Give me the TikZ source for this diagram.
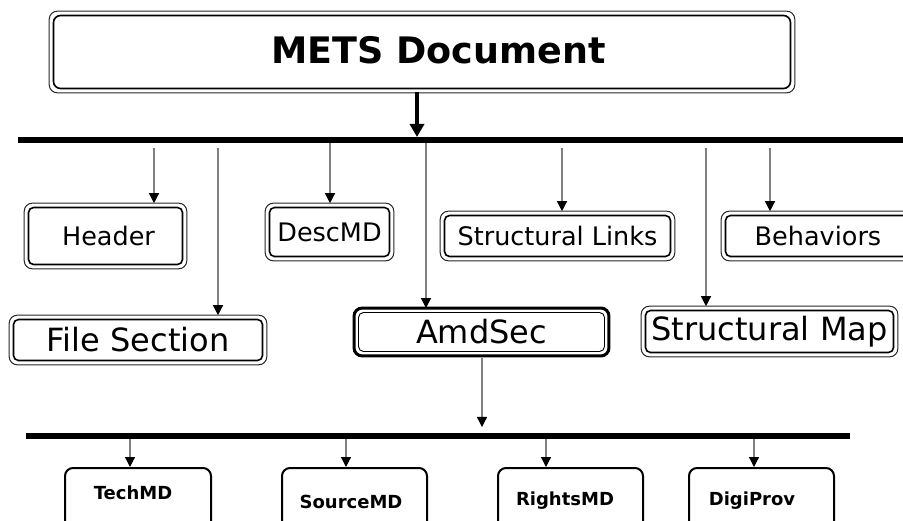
\documentclass[tikz,border=0pt]{standalone}
\usepackage{fontspec}
\setmainfont{DejaVu Sans}
\usetikzlibrary{arrows.meta}
\begin{document}
\begin{tikzpicture}[x=1pt,y=-1pt,
  box/.style={draw=black, line width=1.6pt, rounded corners=5pt, fill=white,
    inner sep=0pt, font=\fontsize{25.5}{28}\selectfont},
  bigtext/.style={font=\fontsize{32}{34}\selectfont},
  ring/.style={draw=black!85, line width=1pt, rounded corners=8pt},
  amdbox/.style={draw=black, line width=0.9pt, rounded corners=5pt, fill=white,
    inner sep=0pt, font=\fontsize{32}{34}\selectfont},
  amdring/.style={draw=black, line width=3pt, rounded corners=8pt},
  bus/.style={draw=black, line width=6pt},
  arr/.style={draw=black!50, line width=1.3pt,
    -{Triangle[color=black, length=10pt, width=10pt]}},
  bigarr/.style={draw=black, line width=4pt,
    -{Triangle[length=13pt, width=14pt]}},
  subbox/.style={draw=black, line width=2pt, rounded corners=8pt,
    minimum height=90pt, anchor=north, inner sep=0pt},
  subtext/.style={font=\bfseries\fontsize{18}{20}\selectfont}
]
\useasboundingbox (0,0) rectangle (903,521);
\clip (0,0) rectangle (903,521);

% top document box
\node[box, rounded corners=7pt, minimum width=737pt, minimum height=73pt] (mets) at (422,52) {};
\node[font=\bfseries\fontsize{36.5}{38}\selectfont] (metstext) at (438.5,50) {METS Document};

% first row of sections
\node[box, minimum width=154pt, minimum height=57pt] (head) at (105.5,236) {\hspace{6pt}Header};
\node[box, minimum width=120pt, minimum height=49pt] (desc) at (329.5,232) {DescMD};
\node[box, minimum width=226pt, minimum height=41pt] (links) at (557.5,236) {Structural Links};
\node[box, minimum width=185pt, minimum height=41pt] (behav) at (818,236) {Behaviors};

% second row of sections
\node[box, bigtext, minimum width=249pt, minimum height=41pt] (files) at (138,340) {File Section};
\node[amdbox, minimum width=246pt, minimum height=39pt] (amd) at (481.5,332) {AmdSec};
\node[box, bigtext, minimum width=248pt, minimum height=42pt] (smap) at (769.5,331.5) {Structural Map};

% outer rings of the double borders
\foreach \n in {mets,head,desc,links,behav,files,smap}
  \draw[ring] ([xshift=-3.5pt,yshift=3.5pt]\n.north west) rectangle ([xshift=3.5pt,yshift=-3.5pt]\n.south east);
\draw[amdring] ([xshift=-4pt,yshift=4pt]amd.north west) rectangle ([xshift=4pt,yshift=-4pt]amd.south east);

% main bus
\coordinate (busL) at (18,140);
\coordinate (busR) at (903,140);
\draw[bus] (busL) -- (busR);

% document to bus
\coordinate (metsout) at (417,92);
\coordinate (metsin) at (417,137);
\draw[bigarr] (metsout) -- (metsin);

% bus taps
\coordinate (t1) at (154,148);
\coordinate (t2) at (218,148);
\coordinate (t3) at (330,143);
\coordinate (t4) at (426,143);
\coordinate (t5) at (562,148);
\coordinate (t6) at (706,148);
\coordinate (t7) at (770,148);
\draw[arr, shorten >=3.5pt] (t1) -- (t1 |- head.north);
\draw[arr, shorten >=3.5pt] (t2) -- (t2 |- files.north);
\draw[arr, shorten >=3.5pt] (t3) -- (t3 |- desc.north);
\draw[arr, shorten >=4pt] (t4) -- (t4 |- amd.north);
\draw[arr, shorten >=3.5pt] (t5) -- (t5 |- links.north);
\draw[arr, shorten >=3.5pt] (t6) -- (t6 |- smap.north);
\draw[arr, shorten >=3.5pt] (t7) -- (t7 |- behav.north);

% AmdSec sub-bus
\coordinate (amdtap) at (482,358);
\coordinate (bus2in) at (482,427);
\draw[arr] (amdtap) -- (bus2in);
\coordinate (bus2L) at (26,436);
\coordinate (bus2R) at (850,436);
\draw[bus] (bus2L) -- (bus2R);

% administrative metadata boxes
\node[subbox, minimum width=146pt] (tech) at (138,467) {};
\node[subbox, minimum width=145pt] (src) at (354.5,467) {};
\node[subbox, minimum width=145pt] (rights) at (570.5,467) {};
\node[subbox, minimum width=145pt] (digi) at (761.5,467) {};
\node[subtext] (techtext) at (133,493) {TechMD};
\node[subtext] (srctext) at (351,502) {SourceMD};
\node[subtext] (rightstext) at (565,501) {RightsMD};
\node[subtext] (digitext) at (752,501) {DigiProv};

\coordinate (b1) at (130,439);
\coordinate (b2) at (346,439);
\coordinate (b3) at (546,439);
\coordinate (b4) at (754,439);
\draw[arr] (b1) -- (b1 |- tech.north);
\draw[arr] (b2) -- (b2 |- src.north);
\draw[arr] (b3) -- (b3 |- rights.north);
\draw[arr] (b4) -- (b4 |- digi.north);
\end{tikzpicture}
\end{document}
